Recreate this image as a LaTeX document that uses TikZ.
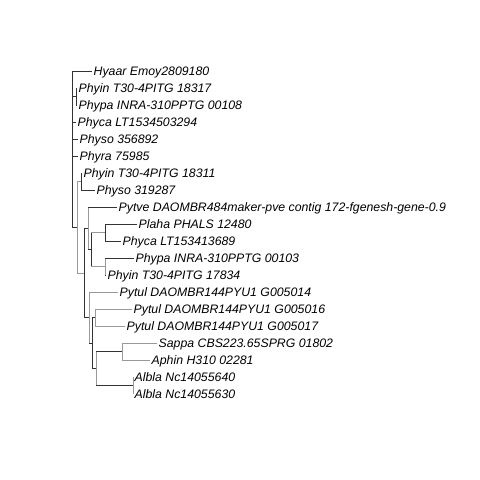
\documentclass[tikz,border=0pt]{standalone}
\usepackage{fontspec}
\setmainfont{Liberation Sans}
\begin{document}
\begin{tikzpicture}[x=1pt,y=-1pt,
  tip/.style={anchor=west,inner xsep=1.5pt,inner ysep=0pt,text height=8.8pt,text depth=0pt,
    font=\fontsize{12.3}{14}\selectfont\itshape},
  dk/.style={draw=black!80,line width=0.8pt},
  lt/.style={draw=black!40,line width=0.8pt}]
\useasboundingbox (0,0) rectangle (480,480);

% internal nodes (x = depth, y = mean of children)
\coordinate (R) at (72,149);
\coordinate (A) at (76,96.5);
\coordinate (B) at (77,227.2);
\coordinate (C) at (81,181.5);
\coordinate (D) at (84,272.9);
\coordinate (E) at (88,228.25);
\coordinate (G) at (91,249.5);
\coordinate (H) at (105,232.5);
\coordinate (I) at (105,266.5);
\coordinate (F) at (89,317.5);
\coordinate (K) at (92,343);
\coordinate (J) at (95,317.5);
\coordinate (L) at (96,368.5);
\coordinate (M) at (122,351.5);
\coordinate (N) at (133,385.5);

% tips
\node[tip] (t1)  at (92,71)  {Hyaar Emoy2809180};
\node[tip] (t2)  at (77,88)  {Phyin T30-4PITG 18317};
\node[tip] (t3)  at (77,105) {Phypa INRA-310PPTG 00108};
\node[tip] (t4)  at (76,122) {Phyca LT1534503294};
\node[tip] (t5)  at (78,139) {Physo 356892};
\node[tip] (t6)  at (78,156) {Phyra 75985};
\node[tip] (t7)  at (82,173) {Phyin T30-4PITG 18311};
\node[tip] (t8)  at (95,190) {Physo 319287};
\node[tip] (t9)  at (117,207) {Pytve DAOMBR484maker-pve contig 172-fgenesh-gene-0.9};
\node[tip] (t10) at (137,224) {Plaha PHALS 12480};
\node[tip] (t11) at (121,241) {Phyca LT153413689};
\node[tip] (t12) at (134,258) {Phypa INRA-310PPTG 00103};
\node[tip] (t13) at (106,275) {Phyin T30-4PITG 17834};
\node[tip] (t14) at (118,292) {Pytul DAOMBR144PYU1 G005014};
\node[tip] (t15) at (132,309) {Pytul DAOMBR144PYU1 G005016};
\node[tip] (t16) at (125,326) {Pytul DAOMBR144PYU1 G005017};
\node[tip] (t17) at (157,343) {Sappa CBS223.65SPRG 01802};
\node[tip] (t18) at (150,360) {Aphin H310 02281};
\node[tip] (t19) at (133,377) {Albla Nc14055640};
\node[tip] (t20) at (133,394) {Albla Nc14055630};

% vertical bars at internal nodes
\draw[dk] (R |- t1) -- (R |- B);
\draw[dk] (A |- t2) -- (A |- t3);
\draw[lt] (B |- C) -- (B |- D);
\draw[dk] (C |- t7) -- (C |- t8);
\draw[dk] (D |- E) -- (D |- F);
\draw[lt] (E |- t9) -- (E |- G);
\draw[dk] (G |- H) -- (G |- I);
\draw[dk] (H |- t10) -- (H |- t11);
\draw[lt] (I |- t12) -- (I |- t13);
\draw[lt] (F |- t14) -- (F |- K);
\draw[dk] (K |- J) -- (K |- L);
\draw[lt] (J |- t15) -- (J |- t16);
\draw[lt] (L |- M) -- (L |- N);
\draw[lt] (M |- t17) -- (M |- t18);
\draw[lt] (N |- t19) -- (N |- t20);

% horizontal branches
\draw[dk] (R |- t1) -- (t1);
\draw[dk] (R |- A) -- (A);
\draw[dk] (A |- t2) -- (t2);
\draw[dk] (A |- t3) -- (t3);
\draw[dk] (R |- t4) -- (t4);
\draw[dk] (R |- t5) -- (t5);
\draw[dk] (R |- t6) -- (t6);
\draw[dk] (R |- B) -- (B);
\draw[lt] (B |- C) -- (C);
\draw[dk] (C |- t7) -- (t7);
\draw[dk] (C |- t8) -- (t8);
\draw[lt] (B |- D) -- (D);
\draw[dk] (D |- E) -- (E);
\draw[dk] (E |- t9) -- (t9);
\draw[dk] (E |- G) -- (G);
\draw[lt] (G |- H) -- (H);
\draw[lt] (G |- I) -- (I);
\draw[dk] (H |- t10) -- (t10);
\draw[dk] (H |- t11) -- (t11);
\draw[dk] (I |- t12) -- (t12);
\draw[dk] (I |- t13) -- (t13);
\draw[dk] (D |- F) -- (F);
\draw[lt] (F |- t14) -- (t14);
\draw[dk] (F |- K) -- (K);
\draw[dk] (K |- J) -- (J);
\draw[lt] (J |- t15) -- (t15);
\draw[lt] (J |- t16) -- (t16);
\draw[dk] (K |- L) -- (L);
\draw[dk] (L |- M) -- (M);
\draw[lt] (M |- t17) -- (t17);
\draw[lt] (M |- t18) -- (t18);
\draw[dk] (L |- N) -- (N);
\draw[dk] (N |- t19) -- (t19);
\draw[dk] (N |- t20) -- (t20);
\end{tikzpicture}
\end{document}
